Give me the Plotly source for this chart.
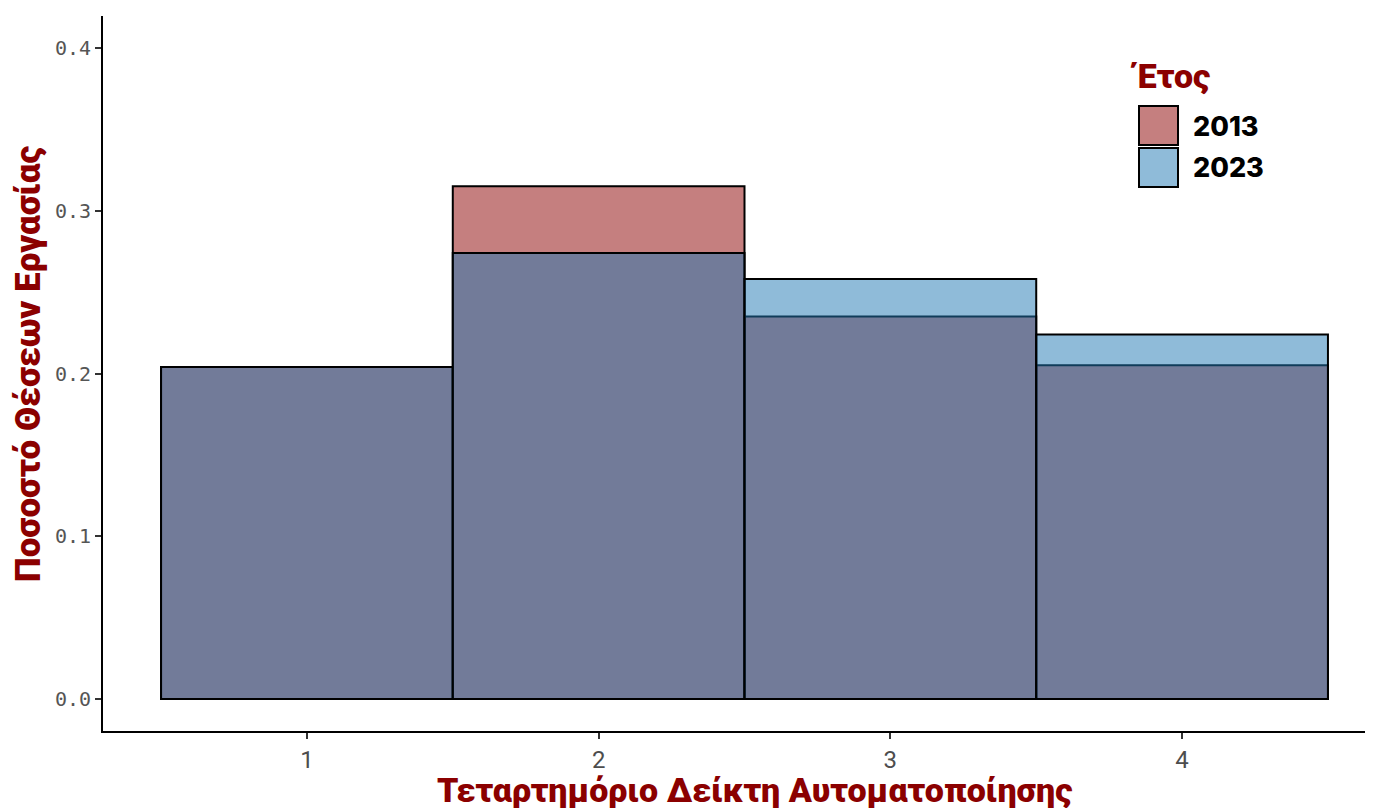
import plotly.graph_objects as go

quartiles = [1, 2, 3, 4]
share_2013 = [0.204, 0.315, 0.235, 0.205]
share_2023 = [0.204, 0.274, 0.258, 0.224]
years = ["2013", "2023"]
fills = ["rgba(139,0,0,0.5)", "rgba(31,119,180,0.5)"]

W, H = 1380, 808
OFF = 8  # page body margin in the browser
L, R, T, B = 103 - OFF, 15 + OFF, 16 - OFF, 77 + OFF

fig = go.Figure()
for name, vals, col in zip(years, [share_2013, share_2023], fills):
    fig.add_trace(go.Bar(x=quartiles, y=vals, name=name, width=1,
                         marker=dict(color=col, line=dict(color="black", width=2)),
                         showlegend=False))


def px(x, y):
    # screen pixel -> paper coordinates
    return (x - OFF - L) / (W - L - R), 1 - (y - OFF - T) / (H - T - B)


title_font = dict(family="Roboto", color="#8B0000", weight=900)

# legend drawn by hand so the keys match the reference size
shapes = []
annotations = []
tx, ty = px(1128, 76)
annotations.append(dict(text="Έτος", x=tx, y=ty, xref="paper", yref="paper",
                        xanchor="left", yanchor="middle", showarrow=False,
                        font=dict(size=34, **title_font)))
for i, (name, col) in enumerate(zip(years, fills)):
    top = 106 + i * 42
    x0, y1 = px(1139, top)
    x1, y0 = px(1178, top + 39)
    shapes.append(dict(type="rect", xref="paper", yref="paper", x0=x0, x1=x1, y0=y0, y1=y1,
                       fillcolor=col, line=dict(color="black", width=2)))
    lx, ly = px(1191, top + 20)
    annotations.append(dict(text=name, x=lx, y=ly, xref="paper", yref="paper",
                            xanchor="left", yanchor="middle", showarrow=False,
                            font=dict(size=27, color="black", family="Inter", weight=800)))

# axis titles
ax, ay = px(754, 790)
annotations.append(dict(text="Τεταρτημόριο Δείκτη Αυτοματοποίησης", x=ax, y=ay,
                        xref="paper", yref="paper", xanchor="center", yanchor="middle",
                        showarrow=False, font=dict(size=34, **title_font)))
bx, by = px(28, 364)
annotations.append(dict(text="Ποσοστό Θέσεων Εργασίας", x=bx, y=by, textangle=-90,
                        xref="paper", yref="paper", xanchor="center", yanchor="middle",
                        showarrow=False, font=dict(size=35, **title_font)))

fig.update_layout(
    barmode="overlay",
    width=W, height=H,
    margin=dict(l=L, r=R, t=T, b=B),
    plot_bgcolor="white", paper_bgcolor="white",
    shapes=shapes, annotations=annotations,
    xaxis=dict(range=[0.301, 4.627], tickvals=quartiles, showgrid=False, zeroline=False,
               showline=True, linecolor="black", linewidth=2,
               ticks="outside", ticklen=6, tickcolor="#333333", tickwidth=2,
               tickfont=dict(family="Roboto", size=24, color="#4d4d4d")),
    yaxis=dict(range=[-0.0197, 0.4197], tickvals=[0, 0.1, 0.2, 0.3, 0.4],
               ticktext=["0.0", "0.1", "0.2", "0.3", "0.4"],
               showgrid=False, zeroline=False,
               showline=True, linecolor="black", linewidth=2,
               ticks="outside", ticklen=6, tickcolor="#333333", tickwidth=2,
               tickfont=dict(family="DejaVu Sans Mono", size=20, color="#555555")),
)

fig.write_html("out.html")
